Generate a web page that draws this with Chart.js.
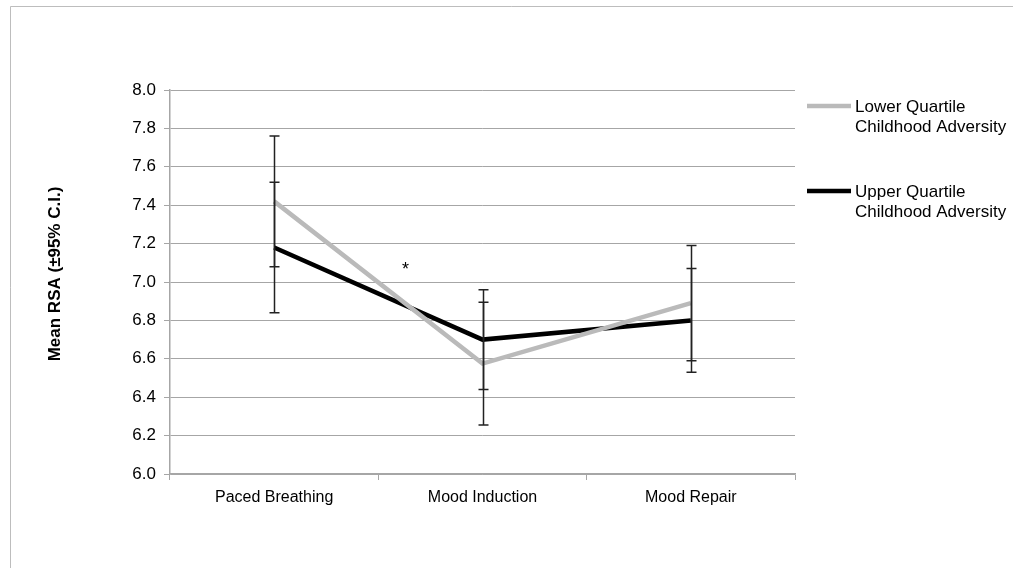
<!DOCTYPE html>
<html>
<head>
<meta charset="utf-8">
<script src="https://cdn.jsdelivr.net/npm/chart.js@4.4.0/dist/chart.umd.min.js"></script>
<style>
  html, body { margin: 0; padding: 0; background: #fff; }
  #wrap { width: 1013px; height: 568px; position: relative; }
</style>
</head>
<body>
<div id="wrap"><canvas id="c" width="1013" height="568"></canvas></div>
<script>
const categories = ['Paced Breathing', 'Mood Induction', 'Mood Repair'];
const lowerLabel = ['Lower Quartile', 'Childhood Adversity'];
const upperLabel = ['Upper Quartile', 'Childhood Adversity'];
const lowerMeans = [7.42, 6.575, 6.89];
const lowerCI    = [0.34, 0.32, 0.30];
const upperMeans = [7.18, 6.70, 6.80];
const upperCI    = [0.34, 0.26, 0.27];
const yTitle = 'Mean RSA (±95% C.I.)';
const yMin = 6.0, yMax = 8.0, yStep = 0.2;
const starMark = { text: '*', x: 0.63, y: 7.08 };

const FONT = '"Liberation Sans", Arial, sans-serif';
Chart.defaults.font.family = FONT;
Chart.defaults.color = '#000';

const errorBars = {
  id: 'errorBars',
  afterDatasetsDraw(chart) {
    const ctx = chart.ctx;
    const xs = chart.scales.x, ys = chart.scales.y;
    ctx.save();
    ctx.strokeStyle = '#222';
    ctx.lineWidth = 1.5;
    chart.data.datasets.forEach(ds => {
      ds.data.forEach((v, i) => {
        const ci = ds.ci[i];
        const x = Math.round(xs.getPixelForValue(i)) + 0.5;
        const yt = ys.getPixelForValue(v + ci);
        const yb = ys.getPixelForValue(v - ci);
        ctx.beginPath();
        ctx.moveTo(x, yt); ctx.lineTo(x, yb);
        ctx.moveTo(x - 5, yt); ctx.lineTo(x + 5, yt);
        ctx.moveTo(x - 5, yb); ctx.lineTo(x + 5, yb);
        ctx.stroke();
      });
    });
    // asterisk
    ctx.fillStyle = '#000';
    ctx.font = '18px ' + FONT;
    ctx.textAlign = 'center';
    ctx.textBaseline = 'middle';
    ctx.fillText(starMark.text, xs.getPixelForValue(starMark.x), ys.getPixelForValue(starMark.y) + 3);
    ctx.restore();
  }
};

const decor = {
  id: 'decor',
  beforeDraw(chart) {
    const ctx = chart.ctx;
    ctx.save();
    ctx.fillStyle = '#fff';
    ctx.fillRect(0, 0, chart.width, chart.height);
    ctx.strokeStyle = '#bdbdbd';
    ctx.lineWidth = 1;
    ctx.beginPath();
    ctx.moveTo(10.5, chart.height);
    ctx.lineTo(10.5, 6.5);
    ctx.lineTo(chart.width, 6.5);
    ctx.stroke();
    ctx.restore();
  },
  afterDraw(chart) {
    const ctx = chart.ctx;
    ctx.save();
    // y title
    ctx.translate(55, 274);
    ctx.rotate(-Math.PI / 2);
    ctx.font = 'bold 17px ' + FONT;
    ctx.fillStyle = '#000';
    ctx.textAlign = 'center';
    ctx.textBaseline = 'middle';
    ctx.fillText(yTitle, 0, 0);
    ctx.restore();
    // legend
    ctx.save();
    const lx = 807, ly = [106, 191];
    chart.data.datasets.forEach((ds, i) => {
      ctx.strokeStyle = ds.borderColor;
      ctx.lineWidth = ds.borderWidth;
      ctx.beginPath();
      ctx.moveTo(lx, ly[i]); ctx.lineTo(lx + 44, ly[i]);
      ctx.stroke();
      ctx.fillStyle = '#000';
      ctx.font = '17px ' + FONT;
      ctx.textAlign = 'left';
      ctx.textBaseline = 'middle';
      ds.label.forEach((t, j) => ctx.fillText(t, lx + 48, ly[i] + 1 + j * 20));
    });
    ctx.restore();
  }
};

new Chart(document.getElementById('c'), {
  type: 'line',
  data: {
    labels: categories,
    datasets: [
      { label: lowerLabel, data: lowerMeans, ci: lowerCI, borderColor: '#bababa', borderWidth: 4.5, pointRadius: 0, tension: 0, fill: false },
      { label: upperLabel, data: upperMeans, ci: upperCI, borderColor: '#000000', borderWidth: 4.5, pointRadius: 0, tension: 0, fill: false }
    ]
  },
  options: {
    responsive: false,
    animation: false,
    layout: { padding: { left: 110, right: 218, top: 90, bottom: 54 } },
    plugins: { legend: { display: false }, tooltip: { enabled: false } },
    scales: {
      x: {
        offset: true,
        afterFit(s) { s.height = 40; },
        grid: { offset: true, drawOnChartArea: false, drawTicks: true, tickLength: 6, color: '#a6a6a6' },
        border: { color: '#a6a6a6', width: 1.5 },
        ticks: { padding: 8, font: { size: 16 }, color: '#000', maxRotation: 0 }
      },
      y: {
        min: yMin, max: yMax,
        afterFit(s) { s.width = 60; },
        grid: { color: '#a6a6a6', lineWidth: 1, tickLength: 6 },
        border: { color: '#a6a6a6', width: 1.5 },
        ticks: { stepSize: yStep, padding: 8, font: { size: 17 }, color: '#000', callback: v => v.toFixed(1) }
      }
    }
  },
  plugins: [decor, errorBars]
});
</script>
</body>
</html>
